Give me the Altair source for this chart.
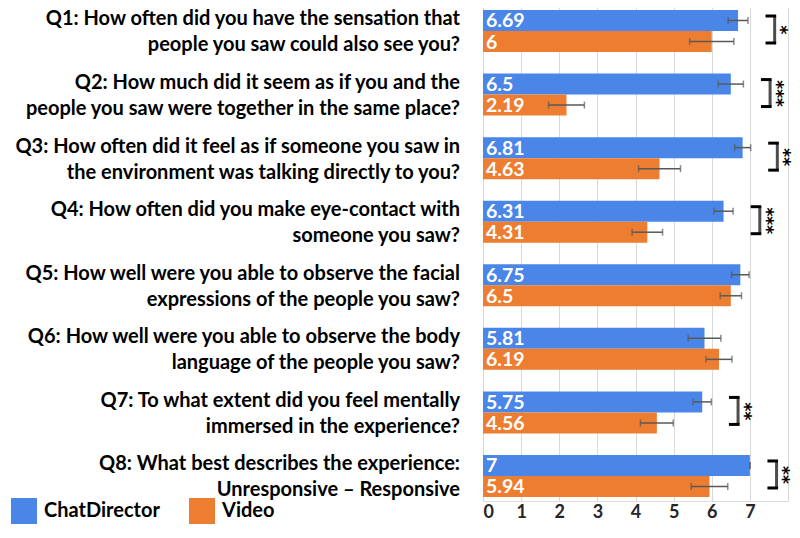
import altair as alt
import pandas as pd

qids = ["Q1", "Q2", "Q3", "Q4", "Q5", "Q6", "Q7", "Q8"]
questions = [
    "Q1: How often did you have the sensation that\npeople you saw could also see you?",
    "Q2: How much did it seem as if you and the\npeople you saw were together in the same place?",
    "Q3: How often did it feel as if someone you saw in\nthe environment was talking directly to you?",
    "Q4: How often did you make eye-contact with\nsomeone you saw?",
    "Q5: How well were you able to observe the facial\nexpressions of the people you saw?",
    "Q6: How well were you able to observe the body\nlanguage of the people you saw?",
    "Q7: To what extent did you feel mentally\nimmersed in the experience?",
    "Q8: What best describes the experience:\nUnresponsive \u2013 Responsive",
]
series = ["ChatDirector", "Video"]
chat_mean = [6.69, 6.5, 6.81, 6.31, 6.75, 5.81, 5.75, 7]
chat_err = [0.26, 0.33, 0.21, 0.25, 0.23, 0.43, 0.24, 0.0]
video_mean = [6, 2.19, 4.63, 4.31, 6.5, 6.19, 4.56, 5.94]
video_err = [0.58, 0.47, 0.55, 0.40, 0.28, 0.34, 0.43, 0.48]
significance = ["*", "***", "**", "***", "", "", "**", "**"]
x_ticks = [0, 1, 2, 3, 4, 5, 6, 7, 8]
colors = ["#4a86e8", "#ed7d31"]

rows = []
for i, q in enumerate(qids):
    for s, m, e in ((series[0], chat_mean, chat_err), (series[1], video_mean, video_err)):
        rows.append({"qid": q, "series": s, "value": m[i], "lo": m[i] - e[i],
                     "hi": m[i] + e[i], "label": f"{m[i]:g}", "zero": 0})
df = pd.DataFrame(rows)

qdf = pd.DataFrame({
    "qid": qids,
    "text": questions,
    "sig": significance,
    "top": [max(chat_mean[i] + chat_err[i], video_mean[i] + video_err[i]) for i in range(8)],
    "zero": [0] * 8,
})
qdf["bl"] = qdf["top"] + 0.5
qdf["br"] = qdf["bl"] + 0.2
qdf["sx"] = qdf["br"] + 0.15
sdf = qdf[qdf["sig"] != ""]

FONT = "Lato"
xscale = alt.Scale(domain=[0, 8], nice=False, zero=True)
xaxis = alt.Axis(values=x_ticks, labelExpr="datum.value == 8 ? '' : datum.label",
                 grid=True, gridColor="#d9d9d9", gridWidth=1, domain=False, ticks=False,
                 labelFontSize=18, labelFont=FONT, labelFontWeight="bold",
                 labelColor="#262626", labelPadding=2, title=None)
yscale = alt.Scale(paddingInner=0.339, paddingOuter=0.110, align=0.714)


def X(field):
    return alt.X(field, type="quantitative", scale=xscale, axis=xaxis, title=None)


def Y():
    return alt.Y("qid:N", sort=qids, scale=yscale, axis=None)


yoff = alt.YOffset("series:N", sort=series, scale=alt.Scale(paddingInner=0, paddingOuter=0))

bars = alt.Chart(df).mark_bar().encode(
    x=X("value"), y=Y(), yOffset=yoff,
    color=alt.Color("series:N", sort=series,
                    scale=alt.Scale(domain=series, range=colors),
                    legend=alt.Legend(title=None, orient="none", legendX=-472, legendY=498,
                                      direction="horizontal", symbolType="square",
                                      symbolSize=676, symbolStrokeWidth=0, labelFontSize=20,
                                      labelFont=FONT, labelFontWeight="bold",
                                      labelColor="black", labelOffset=7, columnPadding=29,
                                      padding=0)),
)

err_rule = alt.Chart(df).mark_rule(color="#595959", strokeWidth=1.5).encode(
    x=X("lo"), x2="hi", y=Y(), yOffset=yoff)
cap_lo = alt.Chart(df).mark_tick(color="#595959", thickness=1.5, size=7, orient="vertical").encode(
    x=X("lo"), y=Y(), yOffset=yoff)
cap_hi = alt.Chart(df).mark_tick(color="#595959", thickness=1.5, size=7, orient="vertical").encode(
    x=X("hi"), y=Y(), yOffset=yoff)

vals = alt.Chart(df).mark_text(align="left", baseline="middle", dx=3, dy=1, color="white",
                               fontSize=19.5, font=FONT, fontWeight="bold").encode(
    x=X("zero"), y=Y(), yOffset=yoff, text="label:N")

qtext = alt.Chart(qdf).mark_text(align="right", baseline="middle", dx=-23, dy=-11.5,
                                 lineBreak="\n", lineHeight=26, color="black",
                                 fontSize=20, font=FONT, fontWeight="bold").encode(
    x=X("zero"), y=Y(), text="text:N")

cap_top = alt.Chart(sdf).mark_rule(color="black", strokeWidth=3, strokeCap="square",
                                   yOffset=-15).encode(x=X("bl"), x2="br", y=Y())
cap_bot = alt.Chart(sdf).mark_rule(color="black", strokeWidth=3, strokeCap="square",
                                   yOffset=12).encode(x=X("bl"), x2="br", y=Y())
vert = alt.Chart(sdf).mark_tick(color="black", thickness=3, size=27, orient="vertical",
                                yOffset=-1.5).encode(x=X("br"), y=Y())
stars = alt.Chart(sdf).mark_text(angle=90, align="center", baseline="middle", fontSize=17,
                                 font="DejaVu Sans", fontWeight="bold", color="black",
                                 yOffset=-1).encode(x=X("sx"), y=Y(), text="sig:N")

chart = alt.layer(bars, err_rule, cap_lo, cap_hi, vals, qtext, cap_top, cap_bot, vert, stars).properties(
    width=305, height=501,
    padding={"left": 475, "top": -8, "right": 4, "bottom": 23},
    autosize=alt.AutoSizeParams(type="none"),
).configure_view(stroke=None).configure(background="white")

chart.save("out.html", embed_options={"renderer": "svg", "actions": False})
